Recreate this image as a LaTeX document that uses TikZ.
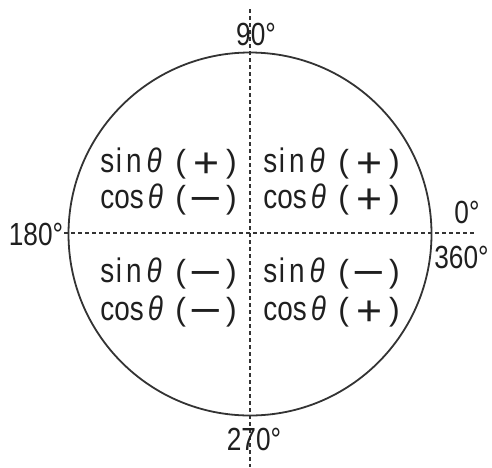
\documentclass[tikz,border=0pt]{standalone}
\usepackage{fontspec}
\setmainfont{Liberation Sans}
\newfontfamily\labfont{Liberation Sans}[FakeStretch=0.82]
\usetikzlibrary{positioning}
\newcommand{\thet}{\textit{θ}}
\newcommand{\sinth}{\makebox[37.5pt][l]{s\kern0.8pt i\kern2pt n\kern2.5pt\thet}}
\newcommand{\costh}{\makebox[37.5pt][l]{cos\kern2pt\thet}}
\newcommand{\pl}{\raisebox{-2.5pt}{\scalebox{1.6}[1.25]{+}}}
\newcommand{\mi}{\raisebox{-2.2pt}{\scalebox{2}[1.2]{−}}}
\newcommand{\paren}[1]{{\rmfamily\fontsize{16}{16}\selectfont(}\makebox[20pt]{#1}{\rmfamily\fontsize{16}{16}\selectfont)}}

\begin{document}
\begin{tikzpicture}[x=0.5pt,y=-0.5pt,
  axis/.style={line width=0.9pt,draw=black!80,dash pattern=on 2pt off 1.5pt},
  quad/.style={anchor=base west,inner sep=0pt,text=black!88,
    font=\labfont\fontsize{17}{20}\selectfont},
  deg/.style={anchor=base,inner sep=0pt,text=black!88,
    font=\labfont\fontsize{16}{18}\selectfont}]
\useasboundingbox (0,0) rectangle (492,467);
\coordinate (o) at (250,234);
\coordinate (top) at (250,9);
\coordinate (bottom) at (250,467);
\coordinate (left) at (64,233);
\coordinate (right) at (475,233);
\draw[line width=0.9pt,draw=black!80] (o) circle[radius=181.5];
\draw[axis] (top) -- (bottom);
\draw[axis] (left) -- (right);
% angles
\node[deg] (a90) at (256,45) {90°};
\node[deg] (a180) at (36,245) {180°};
\node[deg] (a0) at (467,223) {0°};
\node[deg,anchor=base west] (a360) at (434,268) {360°};
\node[deg] (a270) at (254,450) {270°};
% quadrants
\node[quad] (q1s) at (263,172) {\sinth\paren{\pl}};
\node[quad] (q1c) at (263,208) {\costh\paren{\pl}};
\node[quad] (q2s) at (100,172) {\sinth\paren{\pl}};
\node[quad] (q2c) at (100,208) {\costh\paren{\mi}};
\node[quad] (q3s) at (100,282) {\sinth\paren{\mi}};
\node[quad] (q3c) at (100,320) {\costh\paren{\mi}};
\node[quad] (q4s) at (263,282) {\sinth\paren{\mi}};
\node[quad] (q4c) at (263,320) {\costh\paren{\pl}};
\end{tikzpicture}
\end{document}
